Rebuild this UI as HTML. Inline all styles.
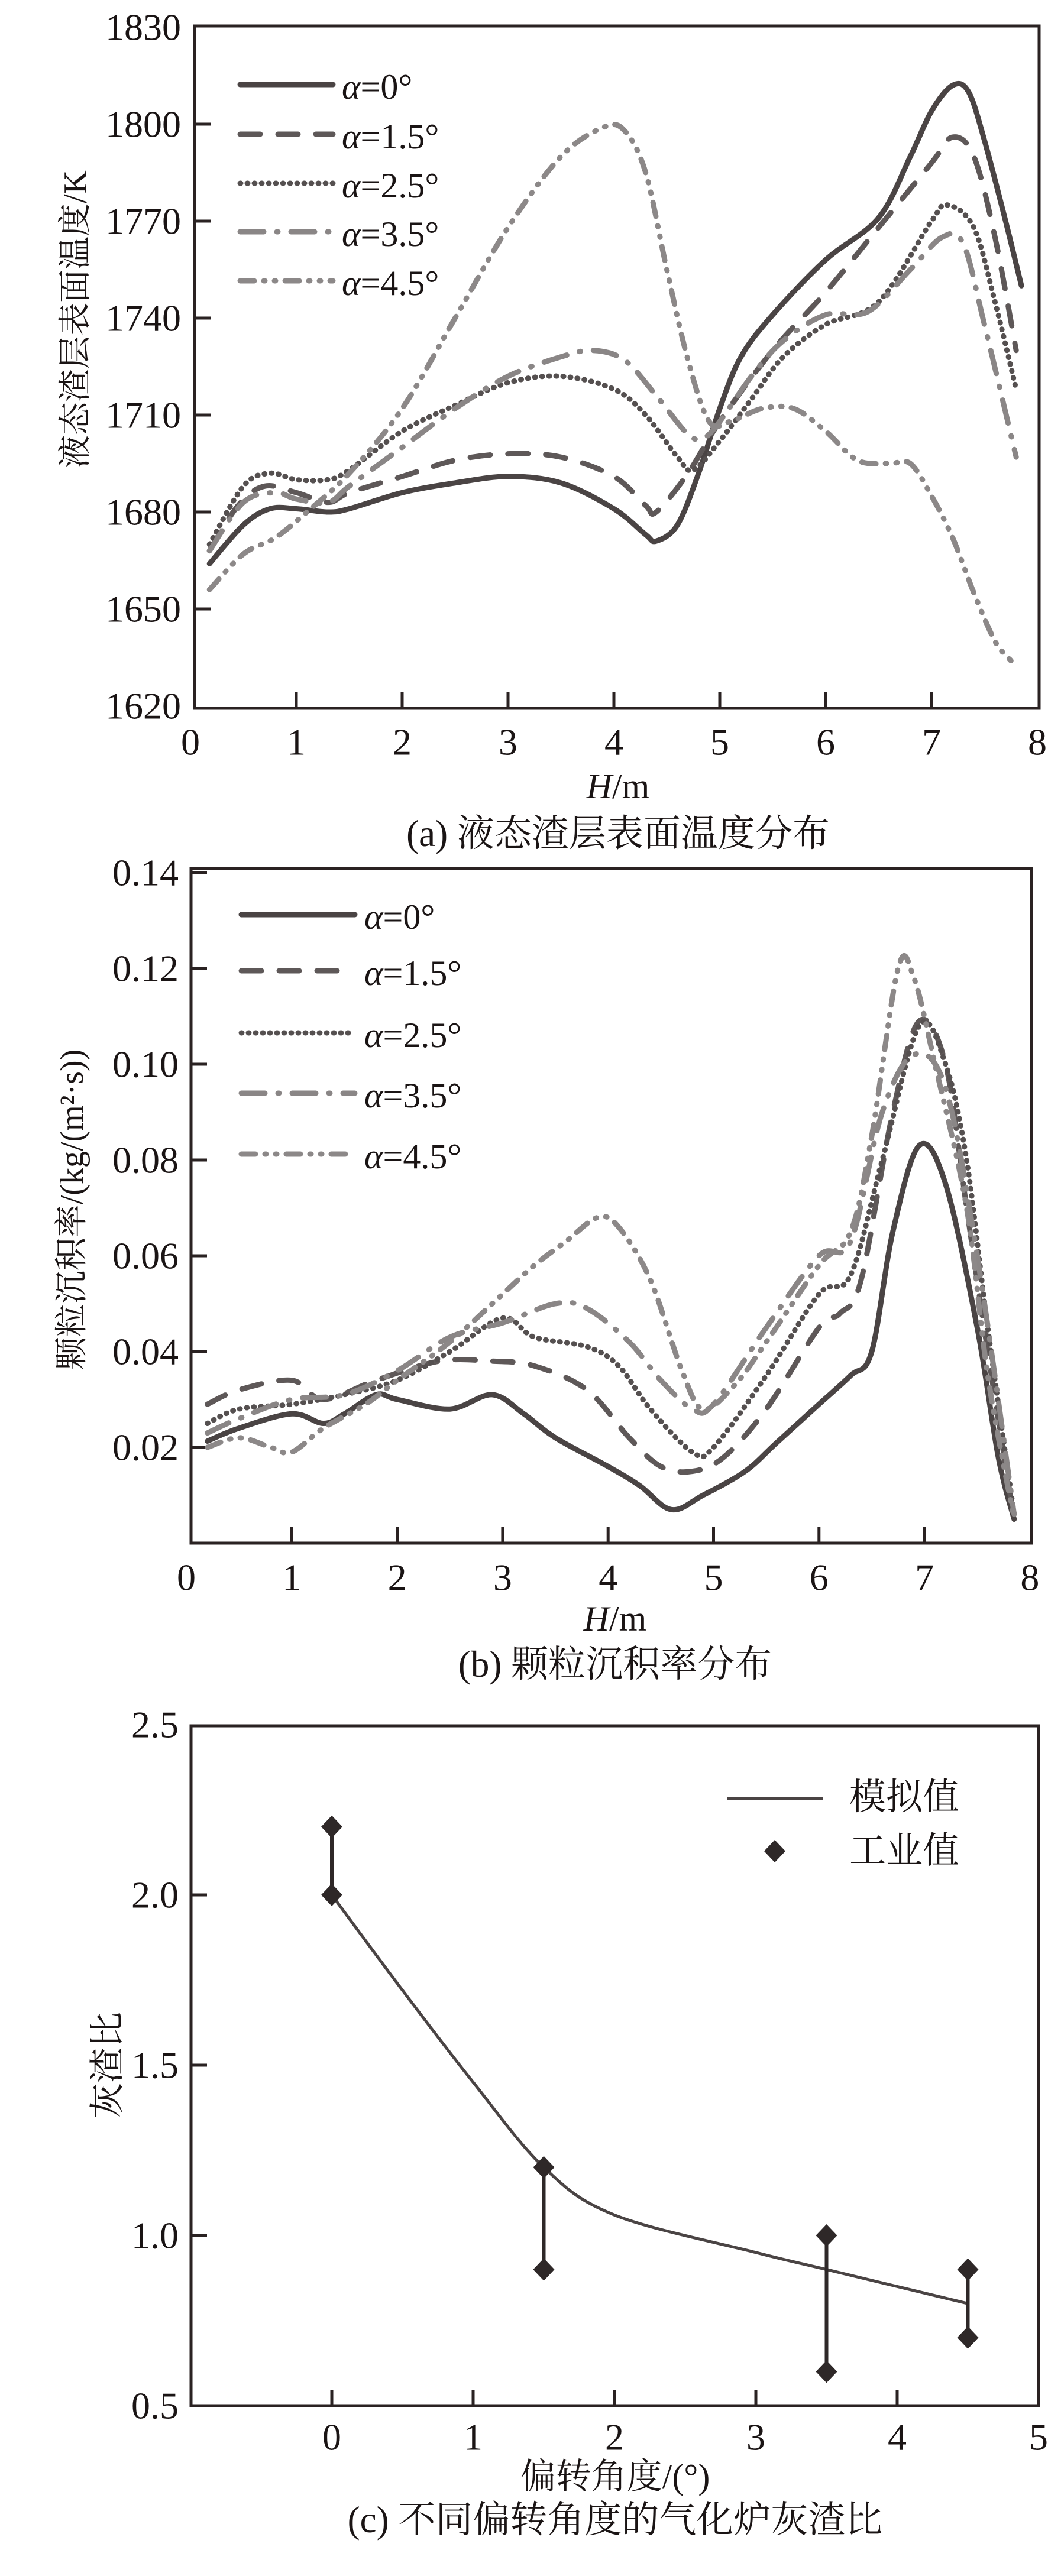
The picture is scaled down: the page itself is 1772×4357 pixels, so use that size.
<!DOCTYPE html>
<html><head><meta charset="utf-8"><style>
html,body{margin:0;padding:0;background:#fff}
svg{display:block}
text{font-family:"Liberation Serif","Noto Serif CJK SC",serif;fill:#1a1414}
</style></head><body>
<svg id="fig" width="1772" height="4357" viewBox="0 0 1772 4357" xmlns="http://www.w3.org/2000/svg"></svg>
<script>
// ---- Chart (a) data ----
const aH0=[0.18,0.5,0.75,1.0,1.3,1.5,2,2.5,3,3.5,4,4.3,4.4,4.6,4.8,5,5.2,5.5,6,6.5,6.8,7,7.2,7.35,7.5,7.7,7.85];
const aT0=[1664,1676,1681,1681,1680,1681,1686,1689,1691,1689,1681,1673,1671,1676,1692,1712,1728,1741,1758,1771,1790,1804,1812,1810,1795,1770,1750];
const aH15=[0.18,0.45,0.7,1.0,1.3,1.5,2,2.5,3,3.5,4,4.3,4.4,4.7,5,5.5,6,6.5,7,7.2,7.4,7.6,7.8];
const aT15=[1668,1682,1688,1686,1683,1686,1691,1696,1698,1697,1691,1682,1680,1692,1708,1730,1748,1768,1788,1796,1790,1765,1730];
const aH25=[0.18,0.5,0.75,1,1.3,1.5,2,2.5,3,3.5,4,4.3,4.6,4.75,5,5.3,5.6,6,6.5,7,7.15,7.4,7.6,7.8];
const aT25=[1670,1688,1692,1690,1690,1693,1705,1713,1720,1722,1718,1710,1697,1693,1702,1715,1728,1738,1745,1770,1775,1768,1745,1718];
const aH35=[0.18,0.5,0.8,1,1.3,1.5,2,2.5,3,3.5,3.8,4.1,4.4,4.7,4.85,5,5.3,5.6,6,6.4,6.8,7.1,7.3,7.5,7.8];
const aT35=[1668,1683,1686,1684,1683,1688,1700,1712,1722,1728,1730,1727,1716,1704,1703,1708,1722,1733,1741,1742,1755,1765,1763,1738,1697];
const aH45=[0.18,0.5,0.8,1.1,1.5,2,2.5,3,3.5,3.9,4.1,4.3,4.5,4.7,4.9,5.1,5.4,5.7,6,6.3,6.6,6.8,7,7.2,7.4,7.6,7.75];
const aT45=[1656,1667,1672,1680,1692,1712,1740,1768,1790,1799,1798,1785,1755,1727,1708,1708,1712,1712,1705,1696,1695,1695,1685,1672,1655,1640,1634];
const aYTicks=[1620,1650,1680,1710,1740,1770,1800,1830];
const aXTicks=[0,1,2,3,4,5,6,7,8];
// ---- Chart (b) data ----
const bH0=[0.2,0.5,1.0,1.3,1.5,1.8,2.0,2.5,2.9,3.2,3.5,4,4.3,4.6,4.9,5.3,5.6,6,6.3,6.5,6.7,6.95,7.2,7.5,7.7,7.85];
const bR0=[0.0213,0.024,0.027,0.025,0.027,0.031,0.030,0.028,0.031,0.027,0.022,0.016,0.012,0.007,0.010,0.015,0.021,0.029,0.035,0.040,0.065,0.083,0.075,0.045,0.018,0.005];
const bH15=[0.2,0.5,1,1.3,1.8,2.4,2.9,3.3,3.8,4.2,4.5,4.8,5.1,5.5,6,6.2,6.4,6.7,6.95,7.2,7.4,7.6,7.85];
const bR15=[0.029,0.032,0.034,0.030,0.034,0.038,0.038,0.037,0.032,0.022,0.016,0.015,0.018,0.028,0.045,0.048,0.055,0.090,0.109,0.100,0.070,0.040,0.005];
const bH25=[0.2,0.5,1,1.5,2,2.5,3,3.3,3.8,4.1,4.4,4.8,5,5.5,6,6.3,6.6,6.95,7.2,7.4,7.6,7.85];
const bR25=[0.025,0.028,0.029,0.031,0.034,0.040,0.047,0.043,0.041,0.037,0.028,0.019,0.020,0.035,0.052,0.056,0.080,0.108,0.100,0.080,0.045,0.006];
const bH35=[0.2,0.5,1,1.5,2,2.5,3,3.5,3.8,4.2,4.5,4.8,5,5.5,6,6.3,6.6,6.9,7.2,7.5,7.85];
const bR35=[0.023,0.026,0.030,0.031,0.036,0.043,0.046,0.050,0.049,0.042,0.034,0.028,0.029,0.045,0.060,0.063,0.090,0.102,0.095,0.060,0.006];
const bH45=[0.2,0.5,0.8,1.0,1.3,1.7,2,2.5,3,3.3,3.6,3.9,4.1,4.4,4.7,4.9,5.2,5.5,6,6.3,6.5,6.75,6.9,7.1,7.4,7.6,7.85];
const bR45=[0.020,0.022,0.020,0.019,0.024,0.029,0.034,0.042,0.052,0.058,0.063,0.068,0.066,0.055,0.036,0.028,0.033,0.042,0.058,0.065,0.085,0.120,0.118,0.100,0.070,0.035,0.005];
const bYTicks=[0.02,0.04,0.06,0.08,0.10,0.12,0.14];
const bXTicks=[0,1,2,3,4,5,6,7,8];
// ---- Chart (c) data ----
const cSimA=[0,0.5,1,1.5,2,3,3.5,4.5];
const cSimV=[2.0,1.72,1.45,1.2,1.06,0.95,0.9,0.8];
const cIndA=[0,1.5,3.5,4.5];
const cIndLo=[2.0,0.9,0.6,0.7];
const cIndHi=[2.2,1.2,1.0,0.9];
const cYTicks=[0.5,1.0,1.5,2.0,2.5];
const cXTicks=[0,1,2,3,4,5];

const NS='http://www.w3.org/2000/svg';
const svg=document.getElementById('fig');
function mk(tag,attrs,parent){const e=document.createElementNS(NS,tag);for(const k in attrs)e.setAttribute(k,attrs[k]);(parent||svg).appendChild(e);return e;}
function txt(s,x,y,size,anchor,parent,extra){const t=mk('text',Object.assign({x:x,y:y,'font-size':size,'text-anchor':anchor||'middle','dominant-baseline':'central'},extra||{}),parent);t.textContent=s;return t;}
function smooth(pts){let d='M'+pts[0][0].toFixed(1)+','+pts[0][1].toFixed(1);for(let i=0;i<pts.length-1;i++){const p0=pts[i-1]||pts[i],p1=pts[i],p2=pts[i+1],p3=pts[i+2]||p2;const c1=[p1[0]+(p2[0]-p0[0])/6,p1[1]+(p2[1]-p0[1])/6],c2=[p2[0]-(p3[0]-p1[0])/6,p2[1]-(p3[1]-p1[1])/6];d+='C'+c1[0].toFixed(1)+','+c1[1].toFixed(1)+' '+c2[0].toFixed(1)+','+c2[1].toFixed(1)+' '+p2[0].toFixed(1)+','+p2[1].toFixed(1);}return d;}
const INK='#2a2222';
const styles=[
 {c:'#4a4444',d:'none'},
 {c:'#5e5858',d:'34 30'},
 {c:'#555050',d:'1 11'},
 {c:'#8a8686',d:'40 22 2 22'},
 {c:'#8c8888',d:'24 16 2 16 2 16'}];
const labels=['α=0°','α=1.5°','α=2.5°','α=3.5°','α=4.5°'];
const TICKF=64;

function frame(g,L,R,T,B){mk('rect',{x:L,y:T,width:R-L,height:B-T,fill:'none',stroke:INK,'stroke-width':5},g);}

function lineChart(name,cfg){
 const g=mk('g',{});
 
 
 const X=v=>cfg.x0+v*cfg.xu, Y=v=>cfg.yb-(v-cfg.ymin)*cfg.yu;
 frame(g,cfg.L,cfg.R,cfg.T,cfg.B);
 cfg.yt.forEach(v=>{const y=Y(v);
  if(y>cfg.T+5&&y<cfg.B-5){const tk=mk('line',{x1:cfg.L,x2:cfg.L+27,y1:y,y2:y,stroke:INK,'stroke-width':5},g);}
  const t=txt(cfg.yfmt(v),cfg.ylx,y,TICKF,'end',g);});
 cfg.xt.forEach(v=>{const x=X(v);
  if(x>cfg.L+5&&x<cfg.R-5){const tk=mk('line',{x1:x,x2:x,y1:cfg.B,y2:cfg.B-27,stroke:INK,'stroke-width':5},g);}
  const t=txt(String(v),x,cfg.xly,TICKF,'middle',g);});
 cfg.series.forEach((s,i)=>{const pts=s[0].map((h,j)=>[X(h),Y(s[1][j])]);
  const p=mk('path',{d:smooth(pts),fill:'none',stroke:styles[i].c,'stroke-width':9,'stroke-linecap':'round','stroke-linejoin':'round','stroke-dasharray':styles[i].d},g);
  
  });
 cfg.leg.forEach((ly,i)=>{const lg=mk('g',{},g);
  
  
  mk('line',{x1:cfg.legx1,x2:cfg.legx2,y1:ly,y2:ly,stroke:styles[i].c,'stroke-width':9,'stroke-linecap':'round','stroke-dasharray':styles[i].d},lg);
  const t=txt('',cfg.legtx,ly+4,60,'start',lg);
  const a=mk('tspan',{'font-style':'italic'},t);a.textContent='α';
  const r=mk('tspan',{},t);r.textContent=labels[i].slice(1);});
 const yt=txt(cfg.ytitle,0,0,56,'middle',g,{transform:'translate('+cfg.ytx+','+cfg.yty+') rotate(-90)'});
 
 const xt=txt('',cfg.xtx,cfg.xty,60,'middle',g);
 
 const h=mk('tspan',{'font-style':'italic'},xt);h.textContent='H';const m=mk('tspan',{},xt);m.textContent='/m';
 const cap=txt(cfg.cap,cfg.xtx,cfg.capy,63,'middle',g);
 
}

lineChart('chart-a-temperature',{L:329,R:1757,T:44,B:1198,x0:322,xu:179,yb:1194,ymin:1620,yu:164/30,
 yt:aYTicks,xt:aXTicks,yfmt:v=>String(v),ylx:306,xly:1255,
 series:[[aH0,aT0],[aH15,aT15],[aH25,aT25],[aH35,aT35],[aH45,aT45]],
 leg:[143,227,310,392,475],legx1:406,legx2:563,legtx:578,
 ytitle:'液态渣层表面温度/K',ytx:128,yty:540,xtx:1045,xty:1330,cap:'(a) 液态渣层表面温度分布',capy:1410});

lineChart('chart-b-deposition',{L:323,R:1744,T:1469,B:2610,x0:315,xu:178.3,yb:2610,ymin:0,yu:8100,
 yt:bYTicks,xt:bXTicks,yfmt:v=>v.toFixed(2),ylx:302,xly:2668,
 series:[[bH0,bR0],[bH15,bR15],[bH25,bR25],[bH35,bR35],[bH45,bR45]],
 leg:[1547,1642,1747,1849,1952],legx1:408,legx2:600,legtx:616,
 ytitle:'颗粒沉积率/(kg/(m²·s))',ytx:122,yty:2046,xtx:1040,xty:2738,cap:'(b) 颗粒沉积率分布',capy:2815});

// chart c
(function(){
 const g=mk('g',{});
 
 
 const L=323,R=1756,T=2919,B=4069,x0=561,xu=239;
 const X=v=>x0+v*xu, Y=v=>B-(v-0.5)*576;
 frame(g,L,R,T,B);
 cYTicks.forEach(v=>{const y=Y(v);
  if(y>T+5&&y<B-5){const tk=mk('line',{x1:L,x2:L+27,y1:y,y2:y,stroke:INK,'stroke-width':5},g);}
  const t=txt(v.toFixed(1),302,y,TICKF,'end',g);});
 cXTicks.forEach(v=>{const x=X(v);
  if(x<R-5){const tk=mk('line',{x1:x,x2:x,y1:B,y2:B-27,stroke:INK,'stroke-width':5},g);}
  const t=txt(String(v),x,4122,TICKF,'middle',g);});
 const sim=mk('path',{d:smooth(cSimA.map((a,i)=>[X(a),Y(cSimV[i])])),fill:'none',stroke:'#4a4444','stroke-width':5},g);
 
 
 cIndA.forEach((a,i)=>{const x=X(a);
  const eb=mk('line',{x1:x,x2:x,y1:Y(cIndLo[i]),y2:Y(cIndHi[i]),stroke:'#2e2828','stroke-width':6},g);
  
  
  [cIndLo[i],cIndHi[i]].forEach(v=>{const y=Y(v);
   const d=mk('path',{d:`M${x},${y-19}L${x+18},${y}L${x},${y+19}L${x-18},${y}Z`,fill:'#2e2828'},g);
   
   });});
 const l1=mk('g',{},g);
 mk('line',{x1:1230,x2:1392,y1:3042,y2:3042,stroke:'#4a4444','stroke-width':5},l1);
 txt('模拟值',1436,3040,62,'start',l1);
 const l2=mk('g',{},g);
 mk('path',{d:'M1310,3112L1328,3131L1310,3150L1292,3131Z',fill:'#2e2828'},l2);
 txt('工业值',1436,3131,62,'start',l2);
 const yt=txt('灰渣比',0,0,60,'middle',g,{transform:'translate(182,3493) rotate(-90)'});
 
 const xt=txt('偏转角度/(°)',1040,4189,60,'middle',g);
 
 const cap=txt('(c) 不同偏转角度的气化炉灰渣比',1040,4262,63,'middle',g);
 
})();
</script>
</body></html>
